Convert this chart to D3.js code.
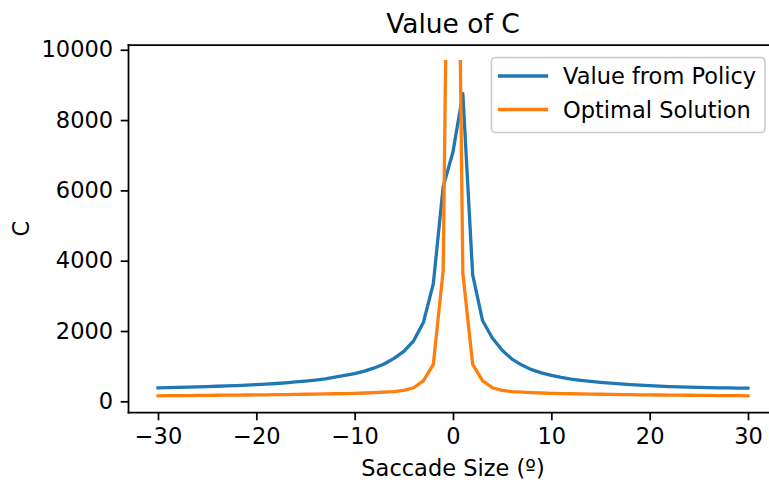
<!DOCTYPE html>
<html>
<head>
<meta charset="utf-8">
<script src="https://cdn.jsdelivr.net/npm/d3@7"></script>
<style>
  html, body { margin: 0; padding: 0; background: #fff; overflow: hidden; }
  svg { display: block; overflow: hidden; }
  svg text { font-family: "DejaVu Sans", sans-serif; fill: #000; }
</style>
</head>
<body>
<svg id="chart" width="769" height="484"></svg>
<script>
// Saccade sizes (degrees) for the policy curve
const saccadeSizes = [
  -30, -29, -28, -27, -26, -25, -24, -23, -22, -21, -20, -19, -18, -17, -16, -15,
  -14, -13, -12, -11, -10, -9, -8, -7, -6, -5, -4, -3, -2, -1, 0,
  1, 2, 3, 4, 5, 6, 7, 8, 9, 10, 11, 12, 13, 14, 15,
  16, 17, 18, 19, 20, 21, 22, 23, 24, 25, 26, 27, 28, 29, 30
];
// Value of C obtained from the learned policy
const policyC = [
  383, 389, 396, 403, 411, 419, 428, 438, 449, 461, 475, 490, 507, 527, 550, 575,
  605, 640, 685, 735, 785, 860, 950, 1060, 1220, 1420, 1720, 2250, 3350, 6100, 7100,
  8750, 3600, 2300, 1800, 1450, 1200, 1030, 900, 810, 740, 680, 630, 595, 565, 540,
  515, 495, 475, 460, 445, 432, 420, 410, 402, 395, 389, 384, 380, 377, 374
];
// Saccade sizes for the optimal solution (undefined at 0)
const optimalSizes = [
  -30, -29, -28, -27, -26, -25, -24, -23, -22, -21, -20, -19, -18, -17, -16, -15,
  -14, -13, -12, -11, -10, -9, -8, -7, -6, -5, -4, -3, -2, -1, -0.75, 0, 0.75,
  1, 2, 3, 4, 5, 6, 7, 8, 9, 10, 11, 12, 13, 14, 15,
  16, 17, 18, 19, 20, 21, 22, 23, 24, 25, 26, 27, 28, 29, 30
];
const optimalC = [
  157, 159, 162, 164, 167, 170, 172, 175, 177, 180, 183, 186, 189, 193, 197, 201,
  205, 210, 215, 221, 228, 237, 247, 260, 278, 310, 385, 590, 1050, 3720, 9660, null, 9660,
  3650, 1050, 590, 385, 310, 278, 260, 247, 237, 228, 221, 215, 210, 205, 201,
  197, 193, 189, 186, 183, 180, 177, 175, 172, 170, 167, 164, 162, 159, 157
];

const seriesNames = ["Value from Policy", "Optimal Solution"];
const seriesColors = ["#1f77b4", "#ff7f0e"];
const xTicks = [-30, -20, -10, 0, 10, 20, 30];
const yTicks = [0, 2000, 4000, 6000, 8000, 10000];

const plot = { left: 128.5, right: 777.5, top: 45, bottom: 412.5 };
const fontSize = 22.5;
const titleSize = 26.5;
const tickLen = 7.8;
const tickPad = 7.6;
const spineW = 1.75;
const lineW = 3.3;

const svg = d3.select("#chart");

// Axis limits padded by 5% of the data span on each side
function padded(lo, hi) {
  const m = (hi - lo) * 0.05;
  return [lo - m, hi + m];
}
const allX = saccadeSizes.concat(optimalSizes);
const allY = policyC.concat(optimalC.filter(v => v != null));
const x = d3.scaleLinear().domain(padded(d3.min(allX), d3.max(allX))).range([plot.left, plot.right]);
const y = d3.scaleLinear().domain(padded(d3.min(allY), d3.max(allY))).range([plot.bottom, plot.top]);

const policy = saccadeSizes.map((s, i) => ({ s, c: policyC[i] }));
const optimal = optimalSizes.map((s, i) => ({ s, c: optimalC[i] }));

const line = d3.line()
  .defined(d => d.c != null)
  .x(d => x(d.s))
  .y(d => y(d.c));

// Curves
[policy, optimal].forEach((data, i) => {
  svg.append("path")
    .datum(data)
    .attr("fill", "none")
    .attr("stroke", seriesColors[i])
    .attr("stroke-width", lineW)
    .attr("stroke-linejoin", "round")
    .attr("stroke-linecap", "square")
    .attr("d", line);
});

// Axes
const xAxis = svg.append("g")
  .attr("transform", `translate(0,${plot.bottom})`)
  .call(d3.axisBottom(x).tickValues(xTicks).tickSize(tickLen).tickPadding(tickPad));
const yAxis = svg.append("g")
  .attr("transform", `translate(${plot.left},0)`)
  .call(d3.axisLeft(y).tickValues(yTicks).tickFormat(d3.format("d")).tickSize(tickLen).tickPadding(tickPad));

[xAxis, yAxis].forEach(g => {
  g.select(".domain").remove();
  g.selectAll(".tick line").attr("stroke", "#000").attr("stroke-width", spineW);
  g.selectAll(".tick text")
    .attr("font-size", fontSize)
    .attr("font-family", "DejaVu Sans, sans-serif")
    .attr("fill", "#000");
});

// Spines
const spines = [
  [plot.left, plot.top, plot.left, plot.bottom],
  [plot.left, plot.bottom, plot.right, plot.bottom],
  [plot.left, plot.top, plot.right, plot.top],
  [plot.right, plot.top, plot.right, plot.bottom]
];
svg.append("g").selectAll("line")
  .data(spines)
  .join("line")
  .attr("x1", d => d[0]).attr("y1", d => d[1])
  .attr("x2", d => d[2]).attr("y2", d => d[3])
  .attr("stroke", "#000")
  .attr("stroke-width", spineW)
  .attr("stroke-linecap", "square");

// Title and axis labels
svg.append("text")
  .attr("x", (plot.left + plot.right) / 2)
  .attr("y", 32.5)
  .attr("text-anchor", "middle")
  .attr("font-size", titleSize)
  .text("Value of C");

svg.append("text")
  .attr("x", (plot.left + plot.right) / 2)
  .attr("y", 476)
  .attr("text-anchor", "middle")
  .attr("font-size", fontSize)
  .text("Saccade Size (º)");

svg.append("text")
  .attr("transform", `translate(28.5,${(plot.top + plot.bottom) / 2}) rotate(-90)`)
  .attr("text-anchor", "middle")
  .attr("font-size", fontSize)
  .text("C");

// Legend
const legend = svg.append("g").attr("transform", "translate(491.5,57.5)");
legend.append("rect")
  .attr("width", 273.5)
  .attr("height", 75)
  .attr("rx", 4)
  .attr("fill", "#fff")
  .attr("fill-opacity", 0.8)
  .attr("stroke", "#cccccc")
  .attr("stroke-width", 1.6);
seriesNames.forEach((name, i) => {
  const cy = 18.5 + i * 33.5;
  legend.append("line")
    .attr("x1", 8).attr("x2", 55)
    .attr("y1", cy).attr("y2", cy)
    .attr("stroke", seriesColors[i])
    .attr("stroke-width", lineW)
    .attr("stroke-linecap", "square");
  legend.append("text")
    .attr("x", 71.5)
    .attr("y", cy)
    .attr("dy", "0.36em")
    .attr("font-size", fontSize)
    .text(name);
});
</script>
</body>
</html>
